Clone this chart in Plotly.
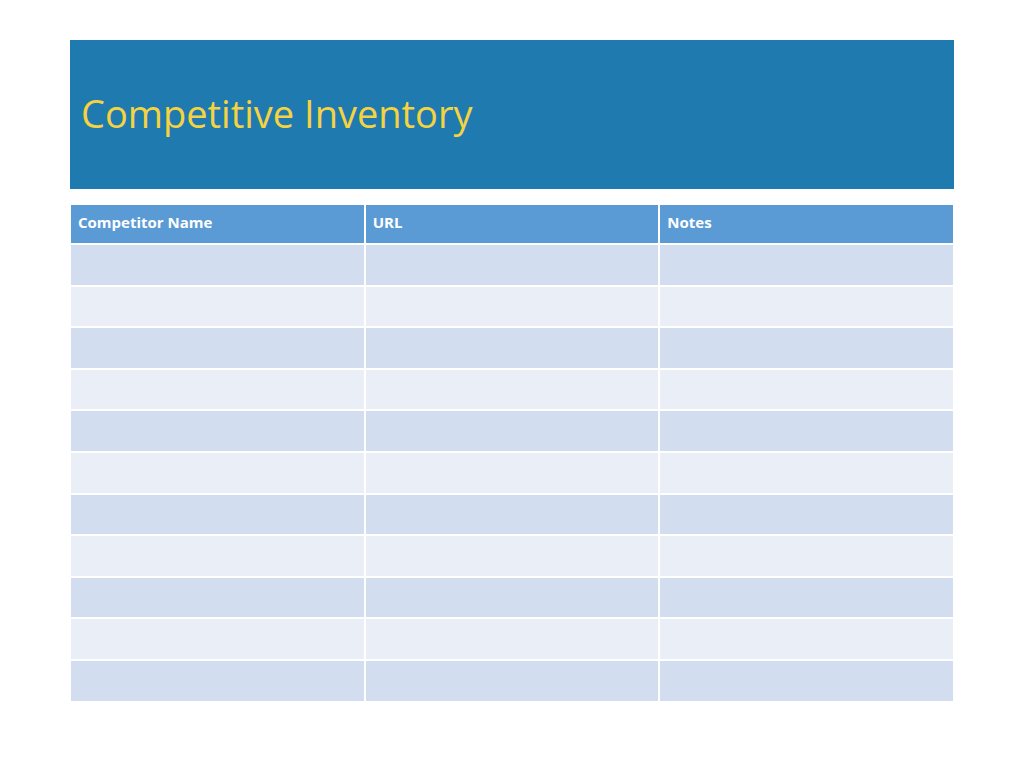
import plotly.graph_objects as go

# table content
title = "Competitive Inventory"
columns = ["Competitor Name", "URL", "Notes"]
n_rows = 11
rows = [[""] * n_rows for _ in columns]

row_colors = ["#d2deef" if i % 2 == 0 else "#eaeff7" for i in range(n_rows)]

# page body adds an 8px offset
def px(x):
    return (x - 8) / 1024

def py(y):
    return 1 - (y - 8) / 768

fig = go.Figure()

fig.add_trace(go.Table(
    domain=dict(x=[px(70), px(954)], y=[py(704), py(204)]),
    columnwidth=[1, 1, 1],
    header=dict(
        values=["<b>%s</b>" % c for c in columns],
        fill_color="#5b9bd5",
        line=dict(color="white", width=2),
        align="left",
        font=dict(family="Open Sans", size=15, color="white"),
        height=40,
    ),
    cells=dict(
        values=rows,
        fill_color=[row_colors] * len(columns),
        line=dict(color="white", width=2),
        height=41.6,
    ),
))

# blue title banner
fig.add_shape(type="rect", xref="paper", yref="paper",
              x0=px(70), x1=px(954), y0=py(189), y1=py(40),
              fillcolor="#1f7ab0", line=dict(width=0), layer="below")

fig.add_annotation(text=title, xref="paper", yref="paper",
                   x=px(79), y=py(113), xanchor="left", yanchor="middle",
                   showarrow=False,
                   font=dict(family="Open Sans", size=38, color="#f5d340"))

fig.update_layout(
    width=1024, height=768,
    margin=dict(l=0, r=0, t=0, b=0),
    paper_bgcolor="white", plot_bgcolor="white",
    xaxis=dict(visible=False), yaxis=dict(visible=False),
)

fig.write_html("out.html")
